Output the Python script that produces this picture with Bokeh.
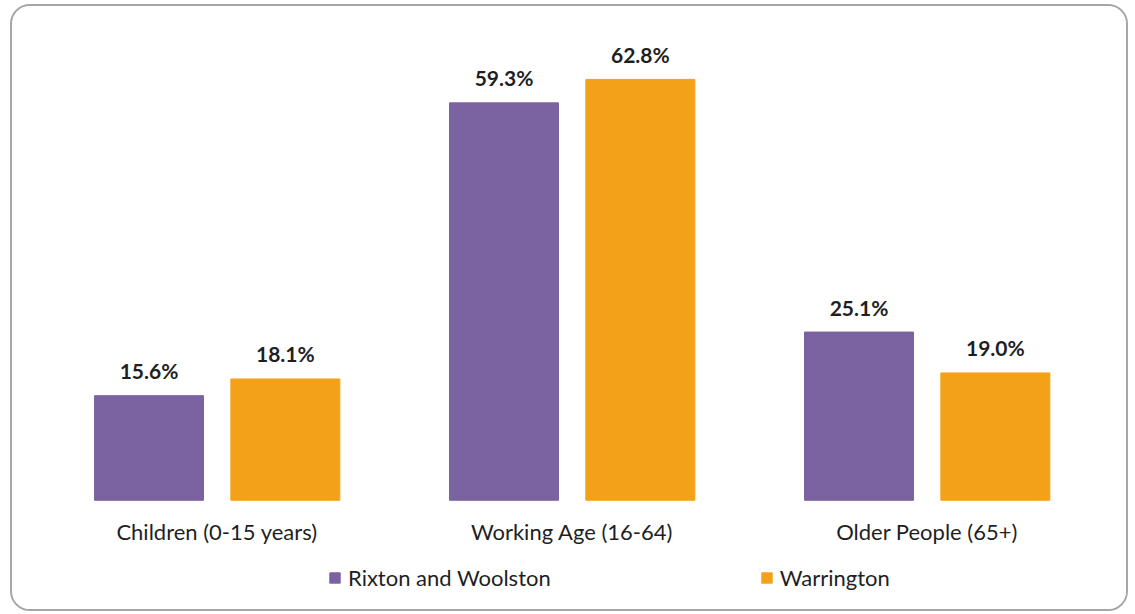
from bokeh.plotting import figure
from bokeh.models import ColumnDataSource, FactorRange, Legend, LegendItem, Range1d
from bokeh.transform import dodge
from bokeh.core.properties import value
from bokeh.embed import file_html
from bokeh.resources import INLINE

categories = ["Children (0-15 years)", "Working Age (16-64)", "Older People (65+)"]
rixton = [15.6, 59.3, 25.1]
warrington = [18.1, 62.8, 19.0]
series_names = ["Rixton and Woolston", "Warrington"]

PURPLE = "#7B63A1"
ORANGE = "#F4A11A"
FONT = "Lato"
TXT = "#1f1f1f"

src = ColumnDataSource(dict(
    cat=categories,
    r=rixton,
    w=warrington,
    rl=[f"{v:.1f}%" for v in rixton],
    wl=[f"{v:.1f}%" for v in warrington],
))

p = figure(width=1118, height=607, output_backend="svg", toolbar_location=None,
           x_range=FactorRange(*categories, range_padding=0), y_range=Range1d(-16.9, 70.1),
           min_border_left=27, min_border_right=26, min_border_top=24, min_border_bottom=0,
           styles={"border": "2px solid #a6a6a6", "border-radius": "20px", "overflow": "hidden",
                   "margin-left": "10px", "margin-top": "4px"})

rb = p.vbar(x=dodge("cat", -0.1915, range=p.x_range), top="r", width=0.307, source=src,
            fill_color=PURPLE, line_color=PURPLE)
wb = p.vbar(x=dodge("cat", 0.1925, range=p.x_range), top="w", width=0.307, source=src,
            fill_color=ORANGE, line_color=ORANGE)

p.text(x=dodge("cat", -0.1915, range=p.x_range), y="r", text="rl", source=src,
       text_align="center", text_baseline="alphabetic", y_offset=-25,
       text_font=value(FONT), text_font_style="bold", text_font_size="21px", text_color=TXT)
p.text(x=dodge("cat", 0.1925, range=p.x_range), y="w", text="wl", source=src,
       text_align="center", text_baseline="alphabetic", y_offset=-25,
       text_font=value(FONT), text_font_style="bold", text_font_size="21px", text_color=TXT)

# category labels under each group
p.text(x="cat", y=0, text="cat", source=src, text_align="center", text_baseline="alphabetic",
       y_offset=31, text_font=value(FONT), text_font_size="22px", text_color=TXT)

p.xaxis.visible = False
p.yaxis.visible = False
p.xgrid.visible = False
p.ygrid.visible = False
p.outline_line_color = None

legend = Legend(items=[LegendItem(label=series_names[0], renderers=[rb]),
                       LegendItem(label=series_names[1], renderers=[wb])],
                orientation="horizontal", location=(289, 22), spacing=209,
                glyph_width=13, glyph_height=13, label_text_font=FONT,
                label_text_font_size="22px", label_text_color=TXT,
                border_line_color=None, background_fill_alpha=0, margin=0, padding=0,
                label_standoff=7)
p.add_layout(legend, "center")

open("out.html", "w").write(file_html(p, INLINE))
